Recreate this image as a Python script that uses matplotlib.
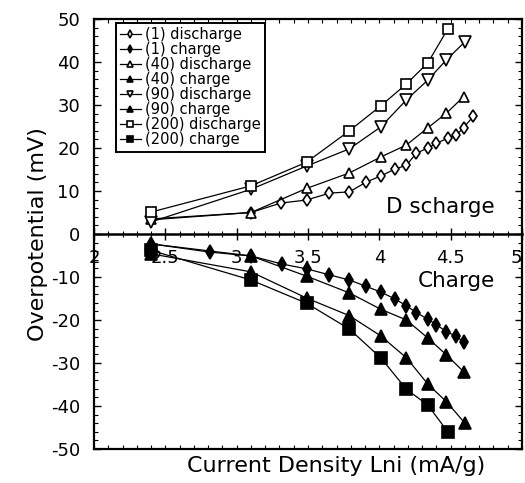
import matplotlib
matplotlib.use("Agg")
import matplotlib.pyplot as plt
from matplotlib.ticker import MultipleLocator

# ---- data (x = ln i, y = overpotential mV) ----
x_1d = [2.40, 3.10, 3.31, 3.49, 3.65, 3.79, 3.91, 4.01, 4.11, 4.19, 4.26, 4.34, 4.40, 4.48, 4.54, 4.59, 4.66]
dis_1 = [3.3, 5.0, 7.2, 7.9, 9.5, 9.8, 12.1, 13.5, 15.1, 16.0, 18.8, 20.0, 21.1, 22.3, 23.0, 24.7, 27.4]
x_1c = [2.40, 2.81, 3.10, 3.32, 3.49, 3.65, 3.79, 3.91, 4.01, 4.11, 4.19, 4.26, 4.34, 4.40, 4.47, 4.54, 4.59]
chg_1 = [-2.3, -4.2, -5.1, -7.0, -8.1, -9.5, -10.7, -12.2, -13.5, -15.1, -16.7, -18.3, -19.8, -21.1, -22.7, -23.8, -25.1]
x_40 = [2.40, 3.10, 3.49, 3.79, 4.01, 4.19, 4.34, 4.47, 4.59]
dis_40 = [3.5, 5.0, 10.6, 14.2, 17.9, 20.7, 24.7, 28.1, 31.9]
chg_40 = [-2.3, -5.1, -9.8, -13.7, -17.5, -20.0, -24.2, -28.1, -32.0]
x_90 = [2.40, 3.10, 3.49, 3.79, 4.01, 4.19, 4.34, 4.47, 4.60]
dis_90 = [2.8, 10.4, 15.8, 19.8, 24.9, 31.2, 35.8, 40.5, 44.7]
chg_90 = [-4.6, -8.8, -14.9, -19.0, -23.7, -28.8, -34.9, -39.0, -44.0]
x_200 = [2.40, 3.10, 3.49, 3.79, 4.01, 4.19, 4.34, 4.48]
dis_200 = [5.1, 11.2, 16.7, 24.0, 29.8, 34.9, 39.8, 47.7]
chg_200 = [-3.8, -10.7, -16.1, -22.1, -28.8, -36.1, -39.8, -46.0]

labels = ["(1) discharge", "(1) charge", "(40) discharge", "(40) charge",
          "(90) discharge", "(90) charge", "(200) discharge", "(200) charge"]
x_ticks = [2, 2.5, 3, 3.5, 4, 4.5, 5]
x_tick_labels = ["2", "2.5", "3", "3.5", "4", "4.5", "5"]

plt.rcParams['font.family'] = ['DejaVu Sans']
plt.rcParams['axes.unicode_minus'] = False

fig = plt.figure(figsize=(5.25, 4.83), dpi=100)
ax = fig.add_axes([94/525, 1-449/483, (522-94)/525, (449-19)/483])

series = [
    (x_1d, dis_1, dict(marker='d', ms=6.5, mfc='white')),
    (x_1c, chg_1, dict(marker='d', ms=7, mfc='black')),
    (x_40, dis_40, dict(marker='^', ms=7.5, mfc='white')),
    (x_40, chg_40, dict(marker='^', ms=8, mfc='black')),
    (x_90, dis_90, dict(marker='v', ms=8, mfc='white')),
    (x_90, chg_90, dict(marker='^', ms=8, mfc='black')),
    (x_200, dis_200, dict(marker='s', ms=7, mfc='white')),
    (x_200, chg_200, dict(marker='s', ms=8, mfc='black')),
]
handles = []
for (xs, ys, st), lab in zip(series, labels):
    h, = ax.plot(xs, ys, color='black', lw=0.9, mec='black', mew=1.2,
                 label=lab, **st)
    handles.append(h)

ax.set_xlim(2, 5)
ax.set_ylim(-50, 50)

for sp in ax.spines.values():
    sp.set_linewidth(1.6)

ax.yaxis.set_major_locator(MultipleLocator(10))
ax.yaxis.set_minor_locator(MultipleLocator(2))
ax.tick_params(axis='y', which='major', direction='in', length=5, width=1,
               labelsize=13, pad=10, right=True)
ax.tick_params(axis='y', which='minor', direction='in', length=3, width=0.8, right=True)

ax.set_xticks(x_ticks)
ax.xaxis.set_minor_locator(MultipleLocator(0.1))
ax.tick_params(axis='x', which='both', direction='in', length=3, width=0.8,
               top=True, labelbottom=False)

sec = ax.secondary_xaxis(0.5)
sec.set_alignment('bottom')
sec.set_xticks(x_ticks)
sec.set_xticklabels(x_tick_labels)
sec.xaxis.set_minor_locator(MultipleLocator(0.1))
sec.tick_params(axis='x', which='major', direction='inout', length=8, width=1,
                labelsize=13, pad=7)
sec.tick_params(axis='x', which='minor', direction='inout', length=4, width=0.8)
sec.spines['bottom'].set_linewidth(1.8)
sec.get_xticklabels()[-1].set_ha('right')

ax.set_ylabel("Overpotential (mV)", fontsize=16, labelpad=2)
fig.text(336/525, 1-466/483, "Current Density Lni (mA/g)", fontsize=16,
         ha='center', va='center')

ax.text(4.81, 4.9, "D scharge", fontsize=15.5, ha='right', va='baseline')
ax.text(4.81, -12.3, "Charge", fontsize=15.5, ha='right', va='baseline')

leg = ax.legend(handles=handles, loc='upper left', bbox_to_anchor=(0.051, 0.991),
                borderaxespad=0, fontsize=10.5, labelspacing=0.0,
                handlelength=1.4, handletextpad=0.3, borderpad=0.3,
                markerscale=0.6, fancybox=False, framealpha=1)
leg.get_frame().set_edgecolor('black')
leg.get_frame().set_linewidth(1.4)

fig.savefig("out.png", dpi=100)
